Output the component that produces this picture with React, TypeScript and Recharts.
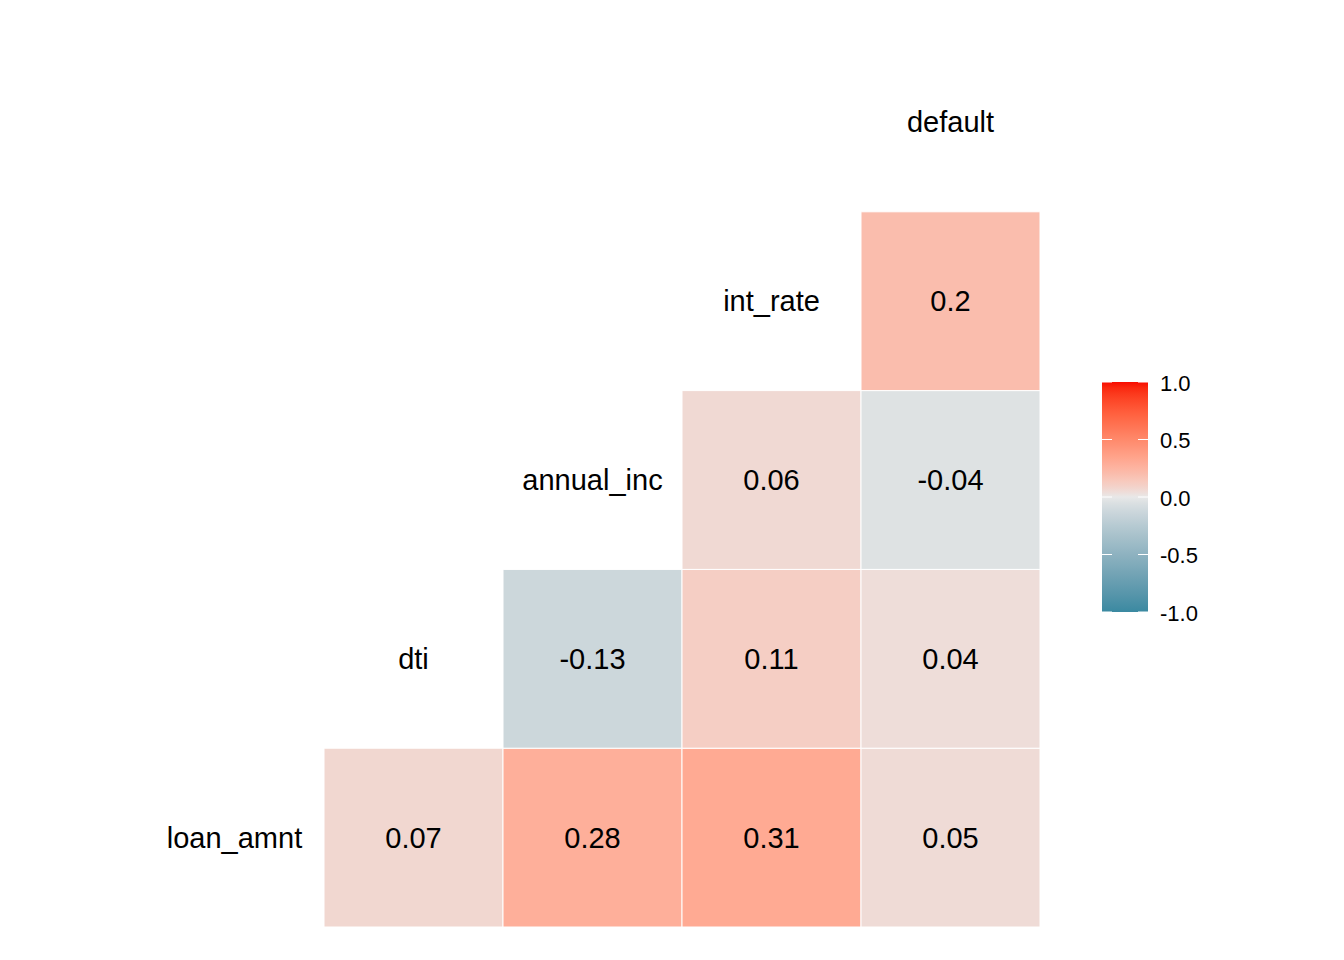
import React from 'react';
import { ScatterChart, Scatter, XAxis, YAxis, ReferenceArea } from 'recharts';

// variables along the diagonal, bottom-left to top-right
const variables = ['loan_amnt', 'dti', 'annual_inc', 'int_rate', 'default'];

// correlations of each variable with the variables after it
const corrLoanAmnt = [0.07, 0.28, 0.31, 0.05];
const corrDti = [-0.13, 0.11, 0.04];
const corrAnnualInc = [0.06, -0.04];
const corrIntRate = [0.2];

const legendTicks = [1, 0.5, 0, -0.5, -1];

const LOW = '#3A89A1';
const MID = '#E8E8E8';
const HIGH = '#F80C00';

const FONT = '"Liberation Sans", Arial, Helvetica, sans-serif';

// --- colour scale (Lab interpolation, like ggplot's gradient2) ---
const WHITE = [0.95047, 1, 1.08883];
const lin = (c: number) => { c /= 255; return c <= 0.04045 ? c / 12.92 : Math.pow((c + 0.055) / 1.055, 2.4); };
const unlin = (c: number) => {
  const v = c <= 0.0031308 ? 12.92 * c : 1.055 * Math.pow(c, 1 / 2.4) - 0.055;
  return Math.round(Math.min(1, Math.max(0, v)) * 255);
};
const f = (t: number) => (t > 0.008856 ? Math.cbrt(t) : 7.787 * t + 16 / 116);
const finv = (t: number) => (t * t * t > 0.008856 ? t * t * t : (t - 16 / 116) / 7.787);

function hexToLab(hex: string) {
  const r = lin(parseInt(hex.slice(1, 3), 16));
  const g = lin(parseInt(hex.slice(3, 5), 16));
  const b = lin(parseInt(hex.slice(5, 7), 16));
  const X = (0.4124 * r + 0.3576 * g + 0.1805 * b) / WHITE[0];
  const Y = (0.2126 * r + 0.7152 * g + 0.0722 * b) / WHITE[1];
  const Z = (0.0193 * r + 0.1192 * g + 0.9505 * b) / WHITE[2];
  const fx = f(X), fy = f(Y), fz = f(Z);
  return [116 * fy - 16, 500 * (fx - fy), 200 * (fy - fz)];
}

function labToHex([L, a, bb]: number[]) {
  const fy = (L + 16) / 116;
  const fx = a / 500 + fy;
  const fz = fy - bb / 200;
  const X = finv(fx) * WHITE[0], Y = finv(fy) * WHITE[1], Z = finv(fz) * WHITE[2];
  const r = 3.2406 * X - 1.5372 * Y - 0.4986 * Z;
  const g = -0.9689 * X + 1.8758 * Y + 0.0415 * Z;
  const b = 0.0557 * X - 0.204 * Y + 1.057 * Z;
  return '#' + [unlin(r), unlin(g), unlin(b)].map((v) => v.toString(16).padStart(2, '0')).join('');
}

const labLow = hexToLab(LOW), labMid = hexToLab(MID), labHigh = hexToLab(HIGH);

function corrColor(v: number) {
  const end = v >= 0 ? labHigh : labLow;
  const t = Math.pow(Math.min(1, Math.abs(v)), 0.85);
  return labToHex(labMid.map((m, i) => m + (end[i] - m) * t));
}

// --- build cells ---
const rows = [corrLoanAmnt, corrDti, corrAnnualInc, corrIntRate];
const cells = rows.flatMap((vals, i) => vals.map((value, k) => ({ x: i + 1 + k, y: i, value })));
const cellLabels = cells.map((c) => ({ x: c.x, y: c.y, label: String(c.value) }));
const diagLabels = variables.map((name, i) => ({ x: i, y: i, label: name }));

const TextShape = (props: any) => (
  <text
    x={props.cx}
    y={props.cy}
    textAnchor="middle"
    dominantBaseline="central"
    fontFamily={FONT}
    fontSize={29}
    fill="#000"
  >
    {props.payload.label}
  </text>
);

const ColorBar = () => {
  const barH = 230;
  const barW = 46;
  const stops = Array.from({ length: 41 }, (_, k) => 1 - k * 0.05);
  return (
    <svg width={130} height={270} style={{ position: 'absolute', left: 1090, top: 370 }}>
      <defs>
        <linearGradient id="corrGrad" x1="0" y1="0" x2="0" y2="1">
          {stops.map((v, k) => (
            <stop key={k} offset={`${(k / (stops.length - 1)) * 100}%`} stopColor={corrColor(v)} />
          ))}
        </linearGradient>
      </defs>
      <rect x={12} y={12} width={barW} height={barH} fill="url(#corrGrad)" />
      {legendTicks.map((t) => {
        const y = 12 + ((1 - t) / 2) * barH;
        return (
          <g key={t}>
            <line x1={12} x2={22} y1={y} y2={y} stroke="#fff" strokeWidth={1} />
            <line x1={12 + barW - 10} x2={12 + barW} y1={y} y2={y} stroke="#fff" strokeWidth={1} />
            <text x={70} y={y + 1} dominantBaseline="central" fontFamily={FONT} fontSize={22} fill="#000">
              {t.toFixed(1)}
            </text>
          </g>
        );
      })}
    </svg>
  );
};

export default function App() {
  return (
    <div style={{ position: 'absolute', left: 0, top: 0, width: 1344, height: 960, background: '#fff' }}>
      <ScatterChart width={1344} height={960} margin={{ top: 33, right: 304, bottom: 33, left: 145 }}>
        <XAxis type="number" dataKey="x" domain={[-0.5, 4.5]} hide />
        <YAxis type="number" dataKey="y" domain={[-0.5, 4.5]} hide />
        {cells.map((c) => (
          <ReferenceArea
            key={`cell-${c.x}-${c.y}`}
            x1={c.x - 0.5}
            x2={c.x + 0.5}
            y1={c.y - 0.5}
            y2={c.y + 0.5}
            fill={corrColor(c.value)}
            fillOpacity={1}
            stroke="#fff"
            strokeWidth={1}
          />
        ))}
        <Scatter data={cellLabels} shape={TextShape} isAnimationActive={false} />
        <Scatter data={diagLabels} shape={TextShape} isAnimationActive={false} />
      </ScatterChart>
      <ColorBar />
    </div>
  );
}
